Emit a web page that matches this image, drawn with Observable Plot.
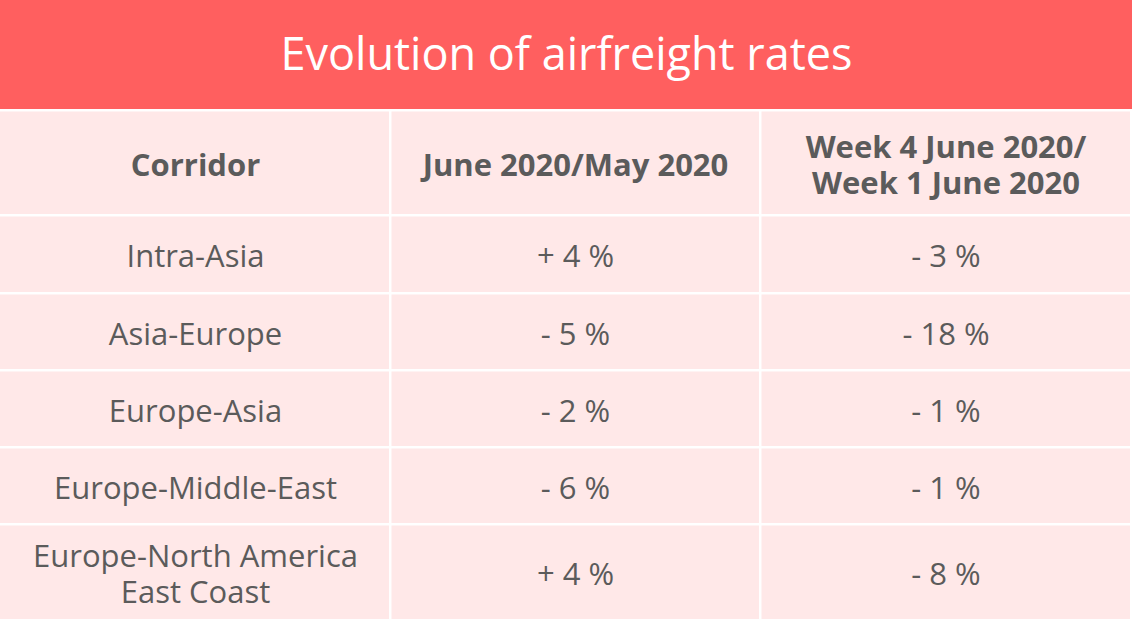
<!DOCTYPE html>
<html><head><meta charset="utf-8">
<script src="https://cdn.jsdelivr.net/npm/d3@7"></script>
<script src="https://cdn.jsdelivr.net/npm/@observablehq/plot@0.6"></script>
<style>body{margin:0;background:#fff;font-family:"Open Sans",sans-serif}</style>
</head><body><div id="chart"></div>
<script>
// ---- data ----
const title = "Evolution of airfreight rates";
const headers = ["Corridor", "June 2020/May 2020", "Week 4 June 2020/\nWeek 1 June 2020"];
const corridors = ["Intra-Asia", "Asia-Europe", "Europe-Asia", "Europe-Middle-East", "Europe-North America\nEast Coast"];
const juneVsMay = ["+ 4 %", "- 5 %", "- 2 %", "- 6 %", "+ 4 %"];
const week4VsWeek1 = ["- 3 %", "- 18 %", "- 1 %", "- 1 %", "- 8 %"];

// ---- layout ----
const W = 1132, H = 624;
const colEdges = [0, 390, 760, 1131];
const rowEdges = [110, 215, 293, 370, 447, 524, 620];
const red = "#FF5F5F", pink = "#FFE8E8", ink = "#5b5b5b";

const rows = [headers, ...corridors.map((c, i) => [c, juneVsMay[i], week4VsWeek1[i]])];
const cells = [];
rows.forEach((row, r) => row.forEach((t, c) => cells.push({
  text: t, header: r === 0,
  x1: colEdges[c] + (c > 0 ? 1.5 : 0), x2: colEdges[c + 1] - 1,
  y1: rowEdges[r] + 1.5, y2: rowEdges[r + 1] - 1,
  cx: (colEdges[c] + colEdges[c + 1]) / 2,
  cy: (rowEdges[r] + rowEdges[r + 1]) / 2 + 1
})));

const chart = Plot.plot({
  width: W, height: H, margin: 0,
  style: {fontFamily: '"Open Sans", sans-serif', background: "#fff"},
  x: {domain: [0, W], range: [0, W], axis: null},
  y: {domain: [0, H], range: [0, H], axis: null},
  marks: [
    Plot.rect([0], {x1: 0, x2: W, y1: 0, y2: 109, fill: red}),
    Plot.text([title], {x: W / 2, y: 55, text: d => d, fill: "#fff", fontSize: 45, fontWeight: 400}),
    Plot.rect(cells, {x1: "x1", x2: "x2", y1: "y1", y2: "y2", fill: pink}),
    Plot.text(cells.filter(d => d.header), {x: "cx", y: "cy", text: "text", fill: ink, fontSize: 31, fontWeight: 700, lineHeight: 1.16}),
    Plot.text(cells.filter(d => !d.header), {x: "cx", y: "cy", text: "text", fill: ink, fontSize: 31, fontWeight: 400, lineHeight: 1.16})
  ]
});
document.getElementById("chart").append(chart);
</script>
</body></html>
